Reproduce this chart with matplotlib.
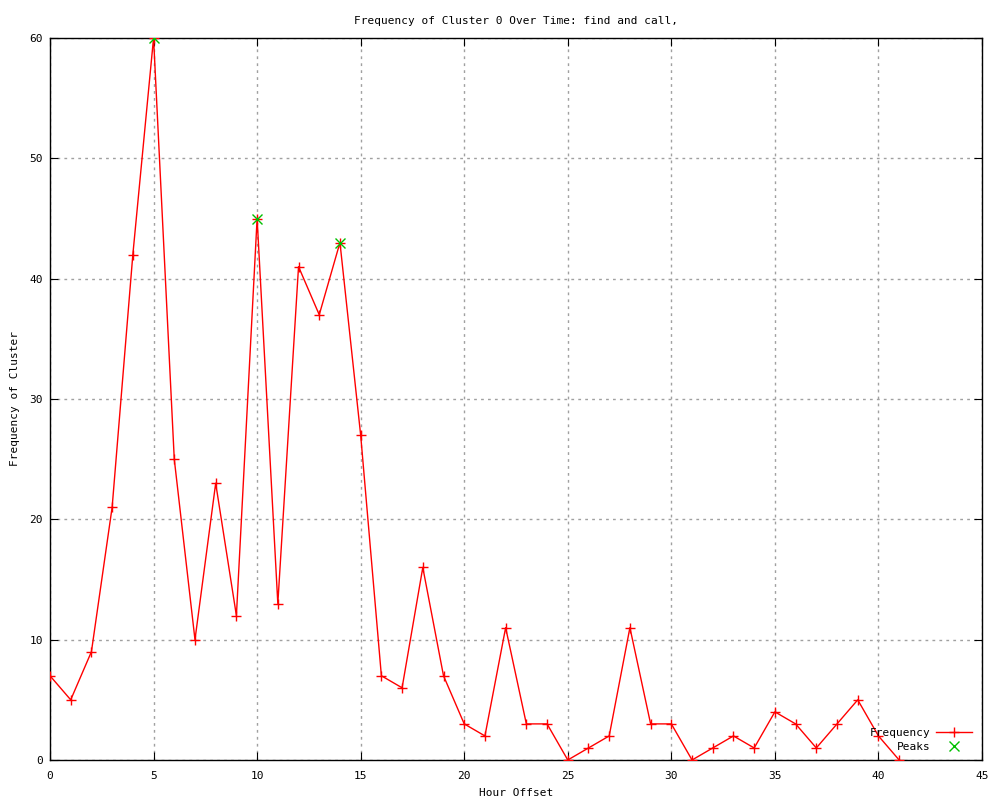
import matplotlib
matplotlib.use("Agg")
import matplotlib.pyplot as plt

hours = list(range(42))
freq = [7, 5, 9, 21, 42, 60, 25, 10, 23, 12, 45, 13, 41, 37, 43, 27, 7, 6, 16, 7,
        3, 2, 11, 3, 3, 0, 1, 2, 11, 3, 3, 0, 1, 2, 1, 4, 3, 1, 3, 5, 2, 0]
peak_hours = [5, 10, 14]
peak_vals = [60, 45, 43]

plt.rcParams['font.family'] = 'DejaVu Sans Mono'
fig = plt.figure(figsize=(10, 8), dpi=100)
ax = fig.add_axes([0.05, 0.05, 0.932, 0.9025])

ax.plot(hours, freq, color='red', lw=1, marker='+', ms=7, mew=1, label='Frequency', zorder=3)
ax.plot(peak_hours, peak_vals, ls='none', marker='x', color='#00c000', ms=7, mew=1, label='Peaks', zorder=4)

ax.set_xlim(0, 45)
ax.set_ylim(0, 60)
ax.set_xticks(range(0, 46, 5))
ax.set_yticks(range(0, 61, 10))
ax.tick_params(direction='in', top=True, right=True, length=6, labelsize=8)
ax.tick_params(axis='x', pad=8)
ax.tick_params(axis='y', pad=5)
ax.grid(True, color='#a0a0a0', ls=(0, (2, 3)), lw=1)
for s in ax.spines.values():
    s.set_linewidth(1)

ax.set_title('Frequency of Cluster 0 Over Time: find and call,', fontsize=8, pad=10)
ax.set_xlabel('Hour Offset', fontsize=8, labelpad=5)
ax.set_ylabel('Frequency of Cluster', fontsize=8, labelpad=7)

leg = ax.legend(loc='lower right', frameon=False, markerfirst=False, fontsize=8,
                handlelength=3.2, borderaxespad=0.35, labelspacing=0.3, handletextpad=0.5,
                bbox_to_anchor=(0.998, 0.0))
for t in leg.get_texts():
    t.set_ha('right')

fig.savefig('out.png', dpi=100, facecolor='white')
